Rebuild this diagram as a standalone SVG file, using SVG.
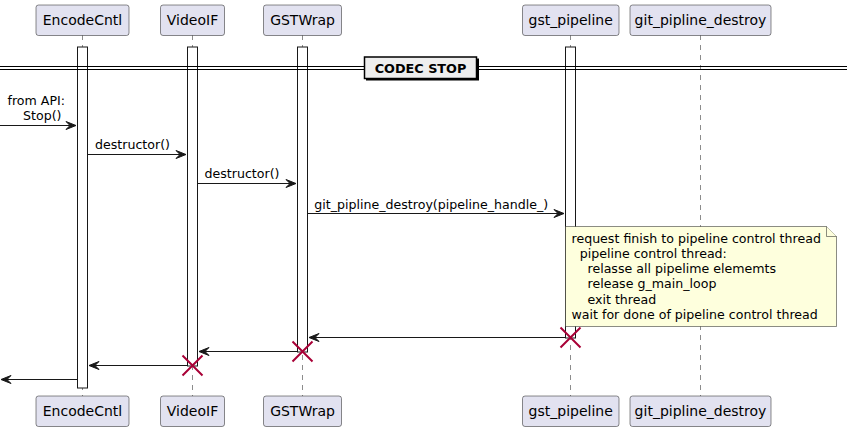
<svg xmlns="http://www.w3.org/2000/svg" width="847" height="432" viewBox="0 0 847 432">
<style>
  .pbox{fill:#E2E2F0;stroke:#181818;stroke-width:0.5}
  .ptxt{font-family:"DejaVu Sans",sans-serif;font-size:14px;fill:#000;text-anchor:middle}
  .life{stroke:#181818;stroke-width:0.5;stroke-dasharray:5,5;fill:none}
  .act{fill:#FFFFFF;stroke:#181818;stroke-width:1}
  .msg{stroke:#181818;stroke-width:1;fill:none}
  .mtxt{font-family:"DejaVu Sans",sans-serif;font-size:12.6px;fill:#000}
  .head{fill:#181818;stroke:#181818;stroke-width:1}
  .kill{stroke:#A80036;stroke-width:2}
  .note{fill:#FEFFDD;stroke:#181818;stroke-width:0.5}
</style>
<rect width="847" height="432" fill="#FFFFFF"/>

<g id="lifelines">
  <line class="life" x1="82.5" y1="35" x2="82.5" y2="396"/>
  <line class="life" x1="192.5" y1="35" x2="192.5" y2="396"/>
  <line class="life" x1="302.5" y1="35" x2="302.5" y2="396"/>
  <line class="life" x1="570.5" y1="35" x2="570.5" y2="396"/>
  <line class="life" x1="700.5" y1="35" x2="700.5" y2="396"/>
</g>

<g id="activations">
  <rect class="act" x="77.5" y="47" width="10" height="341"/>
  <rect class="act" x="187.5" y="47" width="10" height="319"/>
  <rect class="act" x="297.5" y="47" width="10" height="305"/>
  <rect class="act" x="565.5" y="47" width="10" height="291"/>
</g>

<g id="divider">
  <line x1="0" y1="66.5" x2="847" y2="66.5" stroke="#000" stroke-width="1"/>
  <line x1="0" y1="69.5" x2="847" y2="69.5" stroke="#000" stroke-width="1"/>
  <rect x="366" y="58.5" width="113" height="22" fill="#000"/>
  <rect x="364.5" y="57" width="112" height="21.5" fill="#EEEEEE" stroke="#000" stroke-width="1.5"/>
  <text x="420.5" y="72.7" text-anchor="middle" font-family="DejaVu Sans, sans-serif" font-size="12.8" font-weight="bold">CODEC STOP</text>
</g>

<g id="participant-EncodeCntl">
  <rect class="pbox" x="36" y="5" width="93" height="30.5" rx="2.5"/>
  <text class="ptxt" x="82.5" y="25.3">EncodeCntl</text>
  <rect class="pbox" x="36" y="396" width="93" height="30.5" rx="2.5"/>
  <text class="ptxt" x="82.5" y="416.3">EncodeCntl</text>
</g>
<g id="participant-VideoIF">
  <rect class="pbox" x="160.5" y="5" width="64" height="30.5" rx="2.5"/>
  <text class="ptxt" x="192.5" y="25.3">VideoIF</text>
  <rect class="pbox" x="160.5" y="396" width="64" height="30.5" rx="2.5"/>
  <text class="ptxt" x="192.5" y="416.3">VideoIF</text>
</g>
<g id="participant-GSTWrap">
  <rect class="pbox" x="263.5" y="5" width="78" height="30.5" rx="2.5"/>
  <text class="ptxt" x="302.5" y="25.3">GSTWrap</text>
  <rect class="pbox" x="263.5" y="396" width="78" height="30.5" rx="2.5"/>
  <text class="ptxt" x="302.5" y="416.3">GSTWrap</text>
</g>
<g id="participant-gst_pipeline">
  <rect class="pbox" x="522.5" y="5" width="96.5" height="30.5" rx="2.5"/>
  <text class="ptxt" x="570.7" y="25.3">gst_pipeline</text>
  <rect class="pbox" x="522.5" y="396" width="96.5" height="30.5" rx="2.5"/>
  <text class="ptxt" x="570.7" y="416.3">gst_pipeline</text>
</g>
<g id="participant-git_pipline_destroy">
  <rect class="pbox" x="630" y="5" width="141" height="30.5" rx="2.5"/>
  <text class="ptxt" x="700.5" y="25.3">git_pipline_destroy</text>
  <rect class="pbox" x="630" y="396" width="141" height="30.5" rx="2.5"/>
  <text class="ptxt" x="700.5" y="416.3">git_pipline_destroy</text>
</g>

<g id="connectors">
  <line class="msg" x1="0" y1="125.5" x2="76" y2="125.5"/>
  <polygon class="head" points="66,121.5 76,125.5 66,129.5 70,125.5"/>
  <text class="mtxt" x="7.5" y="105">from API:</text>
  <text class="mtxt" x="23" y="120.3">Stop()</text>

  <line class="msg" x1="87.5" y1="154.5" x2="186" y2="154.5"/>
  <polygon class="head" points="176,150.5 186,154.5 176,158.5 180,154.5"/>
  <text class="mtxt" x="95" y="149.3">destructor()</text>

  <line class="msg" x1="197.5" y1="183.5" x2="296" y2="183.5"/>
  <polygon class="head" points="286,179.5 296,183.5 286,187.5 290,183.5"/>
  <text class="mtxt" x="204.5" y="178.3">destructor()</text>

  <line class="msg" x1="307.5" y1="213.5" x2="564" y2="213.5"/>
  <polygon class="head" points="554,209.5 564,213.5 554,217.5 558,213.5"/>
  <text class="mtxt" x="314.3" y="208.5">git_pipline_destroy(pipeline_handle_)</text>

  <line class="msg" x1="565.5" y1="337.5" x2="309" y2="337.5"/>
  <polygon class="head" points="319,333.5 309,337.5 319,341.5 315,337.5"/>

  <line class="msg" x1="297.5" y1="351.5" x2="199" y2="351.5"/>
  <polygon class="head" points="209,347.5 199,351.5 209,355.5 205,351.5"/>

  <line class="msg" x1="187.5" y1="365.5" x2="89" y2="365.5"/>
  <polygon class="head" points="99,361.5 89,365.5 99,369.5 95,365.5"/>

  <line class="msg" x1="77.5" y1="379.5" x2="1" y2="379.5"/>
  <polygon class="head" points="11,375.5 1,379.5 11,383.5 7,379.5"/>
</g>

<g id="destroy-marks">
  <path class="kill" d="M560.5,327.5 L580.5,347.5 M560.5,347.5 L580.5,327.5"/>
  <path class="kill" d="M292.5,341.5 L312.5,361.5 M292.5,361.5 L312.5,341.5"/>
  <path class="kill" d="M182.5,355.5 L202.5,375.5 M182.5,375.5 L202.5,355.5"/>
</g>

<g id="note">
  <path class="note" d="M565.5,226.5 L826.5,226.5 L836.5,236.5 L836.5,326.5 L565.5,326.5 Z"/>
  <path class="note" d="M826.5,226.5 L826.5,236.5 L836.5,236.5" fill="none"/>
  <text class="mtxt" x="571.5" y="242.5">request finish to pipeline control thread</text>
  <text class="mtxt" x="579.7" y="257.8">pipeline control thread:</text>
  <text class="mtxt" x="587.5" y="273.1">relasse all pipelime elememts</text>
  <text class="mtxt" x="587.5" y="288.4">release g_main_loop</text>
  <text class="mtxt" x="587.5" y="303.7">exit thread</text>
  <text class="mtxt" x="571.5" y="319">wait for done of pipeline control thread</text>
</g>
</svg>
